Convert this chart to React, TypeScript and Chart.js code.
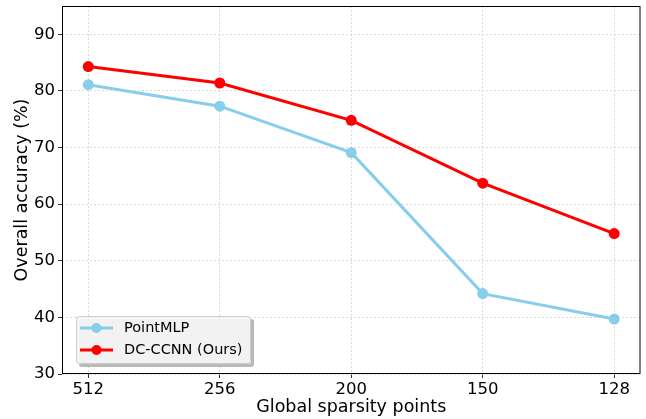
import React, { useEffect, useRef } from "react";
import { Chart, registerables } from "chart.js";
Chart.register(...registerables);

const categories = ["512", "256", "200", "150", "128"];
const pointMLP = [81.1, 77.3, 69.1, 44.2, 39.7];
const dcCCNN = [84.3, 81.4, 74.8, 63.7, 54.8];
const yTicks = [30, 40, 50, 60, 70, 80, 90];

const FONT = "'DejaVu Sans', sans-serif";

const framePlugin = {
  id: "frame",
  afterDraw(chart: any) {
    const { ctx, chartArea: a } = chart;
    ctx.save();
    ctx.strokeStyle = "#000";
    ctx.lineWidth = 1;
    ctx.setLineDash([]);
    ctx.strokeRect(a.left + 0.5, a.top + 0.5, a.right - a.left - 1, a.bottom - a.top - 1);
    // legend
    const lx = a.left + 14, ly = a.top + 310, lw = 175, lh = 48;
    const rr = (x: number, y: number, w: number, h: number, r: number) => {
      ctx.beginPath();
      ctx.moveTo(x + r, y);
      ctx.arcTo(x + w, y, x + w, y + h, r);
      ctx.arcTo(x + w, y + h, x, y + h, r);
      ctx.arcTo(x, y + h, x, y, r);
      ctx.arcTo(x, y, x + w, y, r);
      ctx.closePath();
    };
    ctx.fillStyle = "rgba(128,128,128,0.55)";
    rr(lx + 3, ly + 3, lw, lh, 3);
    ctx.fill();
    ctx.fillStyle = "rgba(255,255,255,0.85)";
    rr(lx, ly, lw, lh, 3);
    ctx.fill();
    ctx.fillStyle = "rgba(240,240,240,0.6)";
    rr(lx, ly, lw, lh, 3);
    ctx.fill();
    ctx.strokeStyle = "#cccccc";
    rr(lx + 0.5, ly + 0.5, lw - 1, lh - 1, 3);
    ctx.stroke();
    chart.data.datasets.forEach((ds: any, i: number) => {
      const y = ly + 12 + i * 22;
      ctx.strokeStyle = ds.borderColor;
      ctx.lineWidth = 3;
      ctx.beginPath();
      ctx.moveTo(lx + 4, y);
      ctx.lineTo(lx + 37, y);
      ctx.stroke();
      ctx.fillStyle = ds.borderColor;
      ctx.beginPath();
      ctx.arc(lx + 20.5, y, 5, 0, Math.PI * 2);
      ctx.fill();
      ctx.fillStyle = "#000";
      ctx.font = "14.5px " + FONT;
      ctx.textBaseline = "middle";
      ctx.textAlign = "left";
      ctx.fillText(ds.label, lx + 48, y);
    });
    ctx.restore();
  },
};

export default function App() {
  const ref = useRef<HTMLCanvasElement>(null);
  useEffect(() => {
    const mk = (vals: number[]) => vals.map((v, i) => ({ x: i, y: v }));
    const chart = new Chart(ref.current!, {
      type: "line",
      data: {
        datasets: [
          {
            label: "PointMLP",
            data: mk(pointMLP),
            borderColor: "#87CEEB",
            backgroundColor: "#87CEEB",
            borderWidth: 3,
            pointRadius: 5.5,
            pointHoverRadius: 5.5,
            pointBorderWidth: 0,
          },
          {
            label: "DC-CCNN (Ours)",
            data: mk(dcCCNN),
            borderColor: "#FF0000",
            backgroundColor: "#FF0000",
            borderWidth: 3,
            pointRadius: 5.5,
            pointHoverRadius: 5.5,
            pointBorderWidth: 0,
          },
        ],
      },
      options: {
        animation: false,
        responsive: false,
        layout: { padding: { top: 6, right: 5, left: 0, bottom: 0 } },
        plugins: { legend: { display: false }, tooltip: { enabled: false } },
        scales: {
          x: {
            type: "linear",
            min: -0.2,
            max: 4.2,
            afterBuildTicks: (s: any) => {
              s.ticks = categories.map((_, i) => ({ value: i }));
            },
            afterFit: (s: any) => {
              s.height = 45;
              s.paddingLeft = 0;
              s.paddingRight = 0;
            },
            ticks: {
              callback: (v: any) => categories[v] ?? "",
              color: "#000",
              font: { family: FONT, size: 16.5 },
              padding: 2,
              maxRotation: 0,
            },
            grid: {
              color: "#d0d0d0",
              lineWidth: 0.8,
              tickColor: "#000",
              tickLength: 4,
              tickBorderDash: [],
            },
            border: { display: false, dash: [2, 2] },
            title: {
              display: true,
              text: "Global sparsity points",
              color: "#000",
              font: { family: FONT, size: 17.5 },
              padding: { top: 0, bottom: 1.5 },
            },
          },
          y: {
            min: 30,
            max: 95,
            afterBuildTicks: (s: any) => {
              s.ticks = yTicks.map((v) => ({ value: v }));
            },
            afterFit: (s: any) => {
              s.width = 62;
              s.paddingTop = 0;
              s.paddingBottom = 0;
            },
            ticks: {
              color: "#000",
              font: { family: FONT, size: 16.5 },
              padding: 3,
            },
            grid: {
              color: "#d0d0d0",
              lineWidth: 0.8,
              tickColor: "#000",
              tickLength: 4,
              tickBorderDash: [],
            },
            border: { display: false, dash: [2, 2] },
            title: {
              display: true,
              text: "Overall accuracy (%)",
              color: "#000",
              font: { family: FONT, size: 17.5 },
              padding: { top: 11.5, bottom: 0 },
            },
          },
        },
      },
      plugins: [framePlugin],
    } as any);
    return () => chart.destroy();
  }, []);
  return (
    <div style={{ position: "fixed", left: 0, top: 0, width: 646, height: 419 }}>
      <canvas ref={ref} width={646} height={419} style={{ width: 646, height: 419 }} />
    </div>
  );
}
